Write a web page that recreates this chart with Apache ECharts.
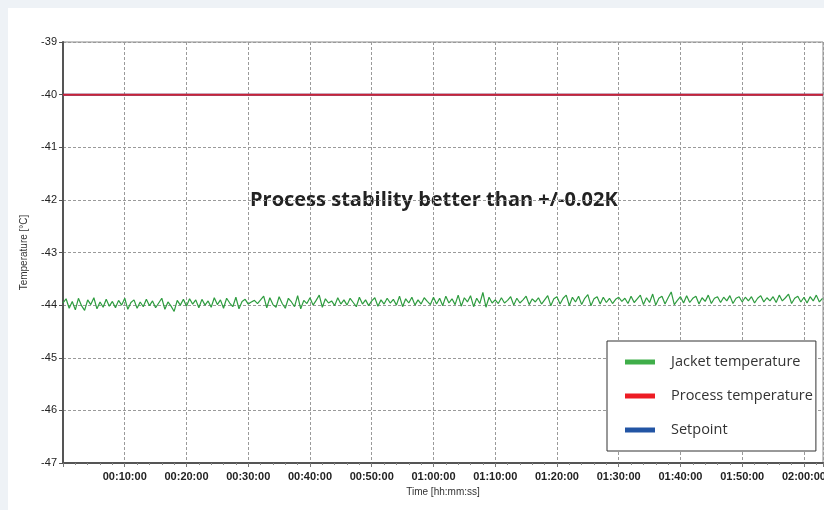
<!DOCTYPE html>
<html>
<head>
<meta charset="utf-8">
<script src="https://cdn.jsdelivr.net/npm/echarts@6/dist/echarts.min.js"></script>
<style>
html,body{margin:0;padding:0;background:#eef2f6;width:824px;height:510px;overflow:hidden;}
#chart{position:absolute;left:8px;top:8px;width:816px;height:502px;background:#ffffff;}
</style>
</head>
<body>
<div id="chart"></div>
<script>
// ---- data ----
var seriesNames = ['Jacket temperature', 'Process temperature', 'Setpoint'];
var timeMax = 7385;            // seconds shown on the axis
var sampleStep = 30;           // seconds between jacket samples
var jacketTemp = [
-43.96,-43.88,-44.06,-43.93,-44.09,-43.87,-44.01,-44.10,-43.90,-43.99,
-43.86,-44.07,-43.94,-44.04,-43.89,-44.02,-43.93,-44.05,-43.91,-44.00,
-43.87,-44.08,-43.95,-43.90,-44.06,-43.94,-44.03,-43.89,-44.01,-43.92,
-44.05,-43.96,-43.87,-44.08,-43.94,-44.02,-44.12,-43.91,-44.00,-43.89,
-44.02,-43.88,-43.98,-43.90,-44.05,-43.89,-44.00,-43.92,-44.04,-43.86,
-43.99,-43.90,-44.06,-43.87,-43.96,-44.03,-43.85,-44.07,-43.93,-43.89,
-43.98,-43.94,-43.91,-43.97,-43.90,-43.83,-44.05,-43.86,-43.99,-44.04,
-43.84,-43.97,-44.06,-43.87,-43.94,-44.03,-43.82,-44.07,-43.91,-43.97,
-43.86,-44.00,-43.91,-43.81,-44.04,-43.88,-43.96,-43.92,-44.01,-43.86,
-43.98,-43.90,-44.00,-43.87,-43.95,-44.03,-43.85,-43.98,-43.90,-44.01,
-43.92,-43.86,-44.02,-43.90,-43.98,-43.87,-43.96,-43.89,-44.00,-43.83,
-44.03,-43.88,-43.96,-43.85,-44.00,-43.90,-43.98,-43.86,-43.93,-43.99,
-43.85,-43.98,-43.87,-44.01,-43.83,-43.96,-43.88,-43.99,-43.81,-44.02,
-43.86,-43.94,-43.82,-44.03,-43.87,-43.97,-43.76,-44.04,-43.85,-43.96,
-43.90,-43.97,-43.86,-43.96,-43.91,-43.84,-44.00,-43.87,-43.96,-43.90,
-43.83,-43.99,-43.88,-43.94,-43.86,-43.98,-43.90,-43.82,-44.01,-43.88,
-43.84,-43.98,-43.87,-43.81,-44.01,-43.85,-43.94,-43.83,-43.99,-43.87,
-43.80,-44.01,-43.88,-43.84,-43.98,-43.85,-43.95,-43.87,-43.97,-43.89,
-43.85,-43.93,-43.87,-43.97,-43.83,-43.95,-43.88,-43.81,-43.99,-43.86,
-43.95,-43.79,-44.00,-43.87,-43.83,-43.98,-43.86,-43.75,-43.99,-43.91,
-43.84,-43.96,-43.82,-43.95,-43.87,-43.83,-43.98,-43.86,-43.93,-43.81,
-43.97,-43.87,-43.84,-43.95,-43.85,-43.92,-43.82,-43.97,-43.87,-43.84,
-43.94,-43.85,-43.92,-43.84,-43.96,-43.87,-43.82,-43.94,-43.86,-43.92,
-43.84,-43.95,-43.81,-43.92,-43.86,-43.79,-43.97,-43.87,-43.83,-43.94,
-43.85,-43.96,-43.84,-43.92,-43.81,-43.94,-43.87
];
var processTimes = [0, 1800, 3600, 5400, 7385];
var processTemp = [-40.00, -40.00, -40.00, -40.00, -40.00];
var setpointTimes = [0, 7385];
var setpointTemp = [-40, -40];
var yTicks = {min: -47, max: -39, interval: 1};
var xTicks = {min: 0, interval: 600};
var annotation = 'Process stability better than +/-0.02K';
var xAxisTitle = 'Time [hh:mm:ss]';
var yAxisTitle = 'Temperature [°C]';

// ---- build ----
function pairs(xs, ys){ return ys.map(function(v,i){ return [xs[i], v]; }); }
var jacketData = jacketTemp.map(function(v,i){ return [i*sampleStep, v]; });
function pad(n){ return (n<10?'0':'')+n; }
function fmt(v){
  if (v === 0) return '';
  var h = Math.floor(v/3600), m = Math.floor((v%3600)/60), s = Math.round(v%60);
  return pad(h)+':'+pad(m)+':'+pad(s);
}

var chart = echarts.init(document.getElementById('chart'), null, {renderer:'canvas'});
chart.setOption({
  animation: false,
  grid: {left: 55, top: 34, right: 1, bottom: 47, outerBoundsMode: 'none', containLabel: false,
         show: true, borderColor: '#8a8a8a', borderWidth: 1, backgroundColor: '#fff'},
  xAxis: {
    type: 'value', min: xTicks.min, max: timeMax, interval: xTicks.interval,
    name: xAxisTitle, nameLocation: 'middle', nameGap: 22,
    nameTextStyle: {fontFamily: 'Liberation Sans', fontSize: 10, color: '#333'},
    axisLine: {show: true, lineStyle: {color: '#555', width: 2}},
    axisTick: {show: true, length: 4, lineStyle: {color: '#777'}},
    minorTick: {show: true, splitNumber: 5, length: 2, lineStyle: {color: '#888'}},
    axisLabel: {formatter: fmt, showMaxLabel: false, hideOverlap: false, margin: 8, fontFamily: 'Liberation Sans', fontSize: 11, fontWeight: 'bold', color: '#222'},
    splitLine: {show: true, lineStyle: {color: '#9a9a9a', type: [3,2], width: 1}}
  },
  yAxis: {
    type: 'value', min: yTicks.min, max: yTicks.max, interval: yTicks.interval,
    name: yAxisTitle, nameLocation: 'middle', nameGap: 34, nameRotate: 90,
    nameTextStyle: {fontFamily: 'Liberation Sans', fontSize: 10, color: '#333'},
    axisLine: {show: true, lineStyle: {color: '#555', width: 2}},
    axisTick: {show: true, length: 4, lineStyle: {color: '#555'}},
    axisLabel: {margin: 6, fontFamily: 'Liberation Sans', fontSize: 11, color: '#222'},
    splitLine: {show: true, lineStyle: {color: '#9a9a9a', type: [3,2], width: 1}}
  },
  legend: {
    orient: 'vertical', left: 599, top: 333,
    backgroundColor: '#fff', borderColor: '#333', borderWidth: 1,
    padding: [11, 3, 11, 18], itemGap: 14, itemWidth: 30, itemHeight: 5,
    icon: 'rect',
    textStyle: {fontFamily: 'Open Sans', fontSize: 14.5, color: '#333', lineHeight: 20, padding: [0,0,0,11]},
    data: [
      {name: seriesNames[0], itemStyle: {color: '#3fae49'}},
      {name: seriesNames[1], itemStyle: {color: '#ed1c24'}},
      {name: seriesNames[2], itemStyle: {color: '#2255a4'}}
    ]
  },
  graphic: [{
    type: 'text', left: 242, top: 182,
    style: {text: annotation, fontFamily: 'Open Sans', fontWeight: 'bold', fontSize: 20, fill: '#222'}
  }],
  series: [
    {name: seriesNames[2], type: 'line', data: pairs(setpointTimes, setpointTemp), showSymbol: false, lineStyle: {color: '#2255a4', width: 2}, itemStyle: {color: '#2255a4'}, z: 2},
    {name: seriesNames[0], type: 'line', data: jacketData, showSymbol: false, lineStyle: {color: '#2e9c3f', width: 1.2}, itemStyle: {color: '#2e9c3f'}, z: 3},
    {name: seriesNames[1], type: 'line', data: pairs(processTimes, processTemp), showSymbol: false, lineStyle: {color: '#cc2236', width: 2}, itemStyle: {color: '#cc2236'}, z: 4}
  ]
});
</script>
</body>
</html>
